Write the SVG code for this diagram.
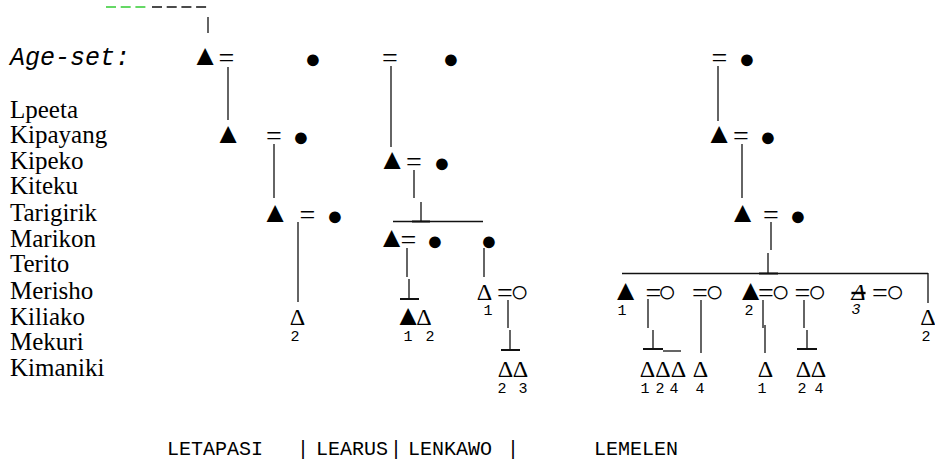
<svg xmlns="http://www.w3.org/2000/svg" width="935" height="464" viewBox="0 0 935 464">
<style>
.nm{font-family:"Liberation Serif","Times New Roman",serif;font-size:25px;fill:#000}
.sy{font-family:"Liberation Serif","DejaVu Sans",serif;font-size:24px;text-anchor:middle;fill:#000}
.tri{font-size:29px}
.dot{font-size:27px}
.ring{font-size:31px}
.eq{font-size:28px}
.dg{font-family:"Liberation Mono","Courier New",monospace;font-size:15px;text-anchor:middle;fill:#000}
.mono{font-family:"Liberation Mono","Courier New",monospace;fill:#000}
.ln{stroke:#111;stroke-width:1.3;fill:none}
.bs{stroke:#111;stroke-width:2;fill:none}
</style>
<rect width="935" height="464" fill="#fff"/>
<g id="top-dashes">
<line x1="106" y1="7" x2="150" y2="7" stroke="#3c3" stroke-width="1.3" stroke-dasharray="10 4.7"/>
<line x1="152" y1="7" x2="210" y2="7" stroke="#111" stroke-width="1.3" stroke-dasharray="10 4.7"/>
</g>
<g id="labels">
<text class="mono" x="10" y="65" font-size="25" font-style="italic">Age-set:</text>
<text class="nm" x="10" y="118">Lpeeta</text>
<text class="nm" x="10" y="143">Kipayang</text>
<text class="nm" x="10" y="169">Kipeko</text>
<text class="nm" x="10" y="194">Kiteku</text>
<text class="nm" x="10" y="221">Tarigirik</text>
<text class="nm" x="10" y="247">Marikon</text>
<text class="nm" x="10" y="272">Terito</text>
<text class="nm" x="10" y="299">Merisho</text>
<text class="nm" x="10" y="325">Kiliako</text>
<text class="nm" x="10" y="350">Mekuri</text>
<text class="nm" x="10" y="376">Kimaniki</text>
</g>
<g id="connectors">
<line class="ln" x1="208" y1="17" x2="208" y2="33"/>
<line class="ln" x1="228" y1="67" x2="228" y2="120"/>
<line class="ln" x1="391" y1="66" x2="391" y2="147"/>
<line class="ln" x1="718" y1="66" x2="718" y2="121"/>
<line class="ln" x1="274" y1="144" x2="274" y2="198"/>
<line class="ln" x1="742" y1="144" x2="742" y2="198"/>
<line class="ln" x1="414" y1="170" x2="414" y2="198"/>
<line class="ln" x1="421" y1="202" x2="421" y2="221"/>
<line class="ln" x1="393" y1="221.5" x2="483" y2="221.5"/>
<line class="bs" x1="412" y1="221.5" x2="430" y2="221.5"/>
<line class="ln" x1="298" y1="222" x2="298" y2="302"/>
<line class="ln" x1="771" y1="222" x2="771" y2="250"/>
<line class="ln" x1="768" y1="253" x2="768" y2="273"/>
<line class="ln" x1="622" y1="273.5" x2="928" y2="273.5"/>
<line class="bs" x1="759" y1="273.5" x2="778" y2="273.5"/>
<line class="ln" x1="928" y1="273" x2="928" y2="303"/>
<line class="ln" x1="407" y1="248" x2="407" y2="277"/>
<line class="ln" x1="409" y1="279" x2="409" y2="298"/>
<line class="bs" x1="400" y1="299" x2="419" y2="299"/>
<line class="ln" x1="484" y1="248" x2="484" y2="277"/>
<line class="ln" x1="508" y1="300" x2="508" y2="328"/>
<line class="ln" x1="510" y1="330" x2="510" y2="349"/>
<line class="bs" x1="501" y1="350" x2="520" y2="350"/>
<line class="ln" x1="648" y1="299" x2="648" y2="328"/>
<line class="ln" x1="653" y1="330" x2="653" y2="349"/>
<line class="bs" x1="643" y1="349" x2="663" y2="349"/>
<line class="ln" x1="663" y1="351" x2="681" y2="351"/>
<line class="ln" x1="701" y1="300" x2="701" y2="353"/>
<line class="ln" x1="763" y1="300" x2="763" y2="328"/>
<line class="ln" x1="765" y1="325" x2="765" y2="353"/>
<line class="ln" x1="804" y1="300" x2="804" y2="328"/>
<line class="ln" x1="807" y1="330" x2="807" y2="349"/>
<line class="bs" x1="797" y1="349" x2="817" y2="349"/>
</g>
<g id="gen-age-set">
<text class="sy"><tspan class="tri" x="205" y="65">▲</tspan><tspan class="eq" x="226.5" y="67">=</tspan><tspan class="dot" x="313" y="68">●</tspan></text>
<text class="sy"><tspan class="eq" x="390" y="67">=</tspan><tspan class="dot" x="451" y="68">●</tspan></text>
<text class="sy"><tspan class="eq" x="719.5" y="67">=</tspan><tspan class="dot" x="747" y="68">●</tspan></text>
</g>
<g id="gen-kipayang">
<text class="sy"><tspan class="tri" x="228" y="143">▲</tspan><tspan class="eq" x="274" y="145">=</tspan><tspan class="dot" x="301" y="146">●</tspan></text>
<text class="sy"><tspan class="tri" x="719" y="143">▲</tspan><tspan class="eq" x="741" y="145">=</tspan><tspan class="dot" x="768" y="146">●</tspan></text>
</g>
<g id="gen-kipeko">
<text class="sy"><tspan class="tri" x="392" y="169">▲</tspan><tspan class="eq" x="414" y="171">=</tspan><tspan class="dot" x="442" y="172">●</tspan></text>
</g>
<g id="gen-tarigirik">
<text class="sy"><tspan class="tri" x="275" y="222">▲</tspan><tspan class="eq" x="307.5" y="224">=</tspan><tspan class="dot" x="335" y="225">●</tspan></text>
<text class="sy"><tspan class="tri" x="742.5" y="222">▲</tspan><tspan class="eq" x="771" y="224">=</tspan><tspan class="dot" x="798" y="225">●</tspan></text>
</g>
<g id="gen-marikon">
<text class="sy"><tspan class="tri" x="391.5" y="247">▲</tspan><tspan class="eq" x="408.5" y="249">=</tspan><tspan class="dot" x="435" y="250">●</tspan></text>
<text class="sy"><tspan class="dot" x="489" y="250">●</tspan></text>
</g>
<g id="gen-merisho">
<text class="sy"><tspan x="484.5" y="300">Δ</tspan><tspan class="eq" x="505" y="302">=</tspan><tspan class="ring" x="519.5" y="302">○</tspan></text>
<text class="dg" x="488" y="315">1</text>
<text class="sy"><tspan class="tri" x="625.5" y="300">▲</tspan></text>
<text class="dg" x="622" y="315">1</text>
<text class="sy"><tspan class="eq" x="653.5" y="302">=</tspan><tspan class="ring" x="667" y="302">○</tspan></text>
<text class="sy"><tspan class="eq" x="700" y="302">=</tspan><tspan class="ring" x="714.5" y="302">○</tspan></text>
<text class="sy"><tspan class="tri" x="750.5" y="300">▲</tspan><tspan class="eq" x="766" y="302">=</tspan><tspan class="ring" x="780.5" y="302">○</tspan></text>
<text class="dg" x="749" y="315">2</text>
<text class="sy"><tspan class="eq" x="802.5" y="302">=</tspan><tspan class="ring" x="817" y="302">○</tspan></text>
<text class="sy"><tspan x="858.5" y="300" font-style="italic" text-decoration="line-through">Δ</tspan><tspan class="eq" x="880" y="302">=</tspan><tspan class="ring" x="895" y="302">○</tspan></text>
<text class="dg" x="856" y="314" font-style="italic">3</text>
</g>
<g id="gen-kiliako">
<text class="sy" x="297.5" y="325">Δ</text>
<text class="dg" x="295" y="341">2</text>
<text class="sy"><tspan class="tri" x="408" y="325">▲</tspan><tspan x="424" y="325">Δ</tspan></text>
<text class="dg"><tspan x="408" y="341">1</tspan><tspan x="430" y="341">2</tspan></text>
<text class="sy" x="928" y="325">Δ</text>
<text class="dg" x="926" y="341">2</text>
</g>
<g id="gen-kimaniki">
<text class="sy"><tspan x="505.5" y="377">Δ</tspan><tspan x="520.5" y="377">Δ</tspan></text>
<text class="dg"><tspan x="502" y="393">2</tspan><tspan x="523" y="393">3</tspan></text>
<text class="sy"><tspan x="647.5" y="377">Δ</tspan><tspan x="663" y="377">Δ</tspan><tspan x="678.5" y="377">Δ</tspan></text>
<text class="dg"><tspan x="645" y="393">1</tspan><tspan x="660" y="393">2</tspan><tspan x="674" y="393">4</tspan></text>
<text class="sy" x="700.5" y="377">Δ</text>
<text class="dg" x="700" y="393">4</text>
<text class="sy" x="765.5" y="377">Δ</text>
<text class="dg" x="762" y="393">1</text>
<text class="sy"><tspan x="803.5" y="377">Δ</tspan><tspan x="818.5" y="377">Δ</tspan></text>
<text class="dg"><tspan x="802" y="393">2</tspan><tspan x="819" y="393">4</tspan></text>
</g>
<g id="sections">
<text class="mono" font-size="20" y="455"><tspan x="167">LETAPASI</tspan><tspan x="297">|</tspan><tspan x="316">LEARUS</tspan><tspan x="390">|</tspan><tspan x="408">LENKAWO</tspan><tspan x="507">|</tspan><tspan x="594">LEMELEN</tspan></text>
</g>
</svg>
